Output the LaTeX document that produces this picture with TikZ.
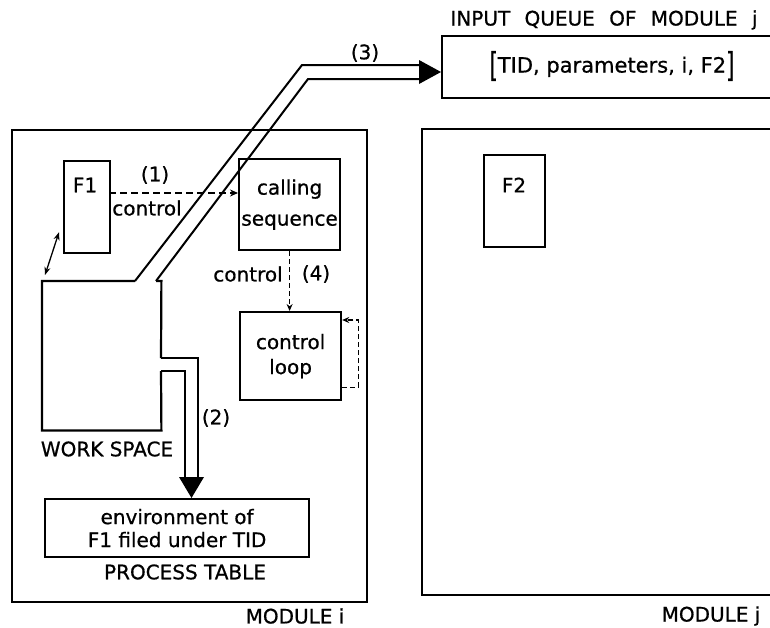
\documentclass[tikz,border=0pt]{standalone}
\usepackage{fontspec}
\setmainfont{DejaVu Sans}
\newfontfamily\lettering{DejaVu Sans}[FakeBold=0.7]
\usetikzlibrary{arrows.meta,calc}
\begin{document}
\begin{tikzpicture}[x=1pt,y=-1pt,
  box/.style={draw,line width=2.2pt,inner sep=0pt},
  lab/.style={font=\lettering\fontsize{20}{24}\selectfont,inner sep=0pt,align=center},
  conn/.style={line width=1.3pt,dash pattern=on 5pt off 3pt,-{Stealth[length=7pt,width=6pt]}},
  boldconn/.style={line width=1.8pt,dash pattern=on 7pt off 4pt,-{Stealth[length=8pt,width=7pt]}},
  wide/.style={line width=2pt,line join=miter},
  thinarrow/.style={line width=1.3pt,{Stealth[length=8pt,width=6pt]}-{Stealth[length=8pt,width=6pt]}},
]
\useasboundingbox (0,0) rectangle (770,627);
\begin{scope}
\clip (0,0) rectangle (770,627);

% boxes
\node[box,anchor=north west,minimum width=355pt,minimum height=472pt] (modi) at (11,129) {};
\node[box,anchor=north west,minimum width=400pt,minimum height=466pt] (modj) at (421,128) {};
\node[box,anchor=north west,minimum width=400pt,minimum height=62pt] (iq) at (441,35) {};
\node[box,anchor=north west,minimum width=46pt,minimum height=92pt] (f1) at (63,160) {};
\node[box,anchor=north west,minimum width=61pt,minimum height=92pt] (f2) at (483,154) {};
\node[box,lab,anchor=north west,minimum width=101pt,minimum height=91pt] (cs) at (238,158) {calling\\[7pt]sequence};
\node[box,lab,anchor=north west,minimum width=101pt,minimum height=88pt] (cl) at (239,311) {control\\[1pt]loop};
\node[box,lab,anchor=north west,minimum width=264pt,minimum height=58pt] (env) at (44,498) {environment of\\[-1pt]F1 filed under TID};
\node[anchor=north west,minimum width=119pt,minimum height=149pt,inner sep=0pt] (ws) at (42,281) {};

% texts
\node[lab] (f1t) at (85,185) {F1};
\node[lab] (f2t) at (514,185) {F2};
\node[lab] (iqt) at (604,20) {INPUT\hspace{8pt} QUEUE\hspace{8pt} OF\hspace{8pt} MODULE\hspace{8pt} j};
\node[lab,font=\lettering\fontsize{21}{25}\selectfont] (iqc) at (612,66)
  {\raisebox{-4pt}{\scalebox{1}[1.6]{[}}TID, parameters, i, F2\raisebox{-4pt}{\scalebox{1}[1.6]{]}}};
\node[lab] (l3) at (365,53) {(3)};
\node[lab] (l1) at (155,175) {(1)};
\node[lab] (c1) at (147,208) {control};
\node[lab] (c4) at (248,274) {control};
\node[lab] (l4) at (316,274) {(4)};
\node[lab] (l2) at (216,418) {(2)};
\node[lab] (wst) at (107,449) {WORK SPACE};
\node[lab] (pt) at (185,572) {PROCESS TABLE};
\node[lab] (mi) at (295,616) {MODULE i};
\node[lab] (mj) at (711,616) {MODULE j};

% work space outline with openings for arrows (2) and (3)
\coordinate (a3os) at (135,281);
\coordinate (a3is) at (156,281);
\coordinate (a2os) at (161,358);
\coordinate (a2is) at (161,371);
\draw[box] (a3os) -- (ws.north west) -- (ws.south west) -- (ws.south east) -- (a2is);
\draw[box] (a2os) -- (ws.north east) -- (a3is);

% arrow (3)
\coordinate (a3oc) at (302,65);
\coordinate (a3ic) at (308,79);
\coordinate (a3tip) at (441,72);
\draw[wide] (a3os) -- (a3oc) -- (420,65);
\draw[wide] (a3is) -- (a3ic) -- (420,79);
\fill (419,60) -- (a3tip) -- (419,84) -- cycle;

% arrow (2)
\coordinate (a2tip) at (191.5,498);
\draw[wide] (a2os) -- (198,358) -- (198,478);
\draw[wide] (a2is) -- (185,371) -- (185,478);
\fill (179,477) -- (204,477) -- (a2tip) -- cycle;

% F1 <-> work space
\draw[thinarrow] ($(f1.south west)+(-4pt,22pt)$) -- ($(ws.north west)+(3pt,6pt)$);

% control (1)
\coordinate (d1s) at (109,193);
\draw[boldconn] (d1s) -- (d1s -| cs.west);

% control (4)
\draw[conn] (cs.south) -- (cs.south |- cl.north);

% control loop
\draw[conn] ($(cl.south east)+(0,14pt)$) -- ++(16pt,0) |- ($(cl.north east)+(0,-9pt)$);
\end{scope}
\end{tikzpicture}
\end{document}
